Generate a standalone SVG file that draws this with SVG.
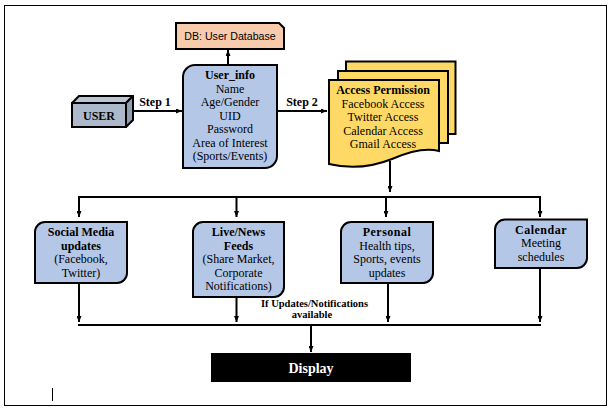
<svg xmlns="http://www.w3.org/2000/svg" width="613" height="411" viewBox="0 0 613 411">
<defs>
<marker id="ah" viewBox="0 0 6 5" refX="6" refY="2.5" markerWidth="6" markerHeight="5" orient="auto" markerUnits="userSpaceOnUse">
<path d="M0,0 L6,2.5 L0,5 Z" fill="#000"/>
</marker>
<style>
.t{font-family:"Liberation Serif","Times New Roman",serif;font-size:12px;fill:#000;text-anchor:middle}
.b{font-weight:bold}
.node{stroke:#000;stroke-width:2}
.blue{fill:#B4C7E7}
.conn{fill:none;stroke:#000;stroke-width:2}
</style>
</defs>
<rect x="0" y="0" width="613" height="411" fill="#fff"/>
<rect x="4.5" y="5.5" width="602" height="400" fill="none" stroke="#000" stroke-width="1"/>
<line x1="52.5" y1="388" x2="52.5" y2="401" stroke="#000" stroke-width="1"/>

<g id="connectors">
<line class="conn" x1="133" y1="111" x2="182" y2="111" marker-end="url(#ah)"/>
<line class="conn" x1="277" y1="111" x2="327" y2="111" marker-end="url(#ah)"/>
<line class="conn" x1="228" y1="65" x2="228" y2="50" marker-end="url(#ah)"/>
<line class="conn" x1="390" y1="161" x2="390" y2="192" marker-end="url(#ah)"/>
<line class="conn" x1="78" y1="197" x2="541" y2="197"/>
<line class="conn" x1="79" y1="196" x2="79" y2="217" marker-end="url(#ah)"/>
<line class="conn" x1="236.5" y1="197" x2="236.5" y2="217" marker-end="url(#ah)"/>
<line class="conn" x1="386" y1="197" x2="386" y2="217" marker-end="url(#ah)"/>
<line class="conn" x1="540" y1="196" x2="540" y2="217" marker-end="url(#ah)"/>
<line class="conn" x1="79" y1="284" x2="79" y2="322" marker-end="url(#ah)"/>
<line class="conn" x1="236.5" y1="298" x2="236.5" y2="322" marker-end="url(#ah)"/>
<line class="conn" x1="388" y1="284" x2="388" y2="322" marker-end="url(#ah)"/>
<line class="conn" x1="540" y1="269" x2="540" y2="322" marker-end="url(#ah)"/>
<line class="conn" x1="78" y1="325" x2="541" y2="325"/>
<line class="conn" x1="311" y1="325" x2="311" y2="352" marker-end="url(#ah)"/>
<text class="t b" x="155" y="105.5">Step 1</text>
<text class="t b" x="302" y="105.5">Step 2</text>
<text class="t b" x="314.5" y="306.5" style="font-size:10.5px">If Updates/Notifications</text>
<text class="t b" x="312" y="318" style="font-size:10.5px">available</text>
</g>

<g id="db">
<path class="node" d="M176,23 H279 L284,28 V49 H176 Z" fill="#F8CBAD"/>
<text x="230" y="39.5" style="font-family:'Liberation Sans',Arial,sans-serif;font-size:10.6px;text-anchor:middle">DB: User Database</text>
</g>

<g id="user">
<polygon class="node" points="72,103 79,96 133,96 126,103" fill="#BAC5D3" stroke-linejoin="round"/>
<polygon class="node" points="126,103 133,96 133,120 126,127" fill="#929EAD" stroke-linejoin="round"/>
<rect class="node" x="72" y="103" width="54" height="24" fill="#ACB9CA"/>
<text class="t b" x="99" y="119.5">USER</text>
</g>

<g id="user_info">
<path class="node blue" d="M195,65 H277 V156 A12,12 0 0 1 265,168 H183 V77 A12,12 0 0 1 195,65 Z"/>
<text class="t b" x="230" y="79">User_info</text>
<text class="t" x="230" y="92.5">Name</text>
<text class="t" x="230" y="106">Age/Gender</text>
<text class="t" x="230" y="119.5">UID</text>
<text class="t" x="230" y="133">Password</text>
<text class="t" x="230" y="146.5">Area of Interest</text>
<text class="t" x="230" y="160">(Sports/Events)</text>
</g>

<g id="access_permission">
<rect class="node" x="346" y="61.5" width="109.5" height="72.5" fill="#FFD966"/>
<rect class="node" x="338" y="71" width="110" height="72" fill="#FFD966"/>
<path class="node" d="M329,80 H439 V151 C424,147 408,152 392,159 C372,167 350,169 329,164 Z" fill="#FFD966"/>
<text class="t b" x="383" y="93.5">Access Permission</text>
<text class="t" x="383" y="107.5">Facebook Access</text>
<text class="t" x="383" y="121">Twitter Access</text>
<text class="t" x="383" y="134.5">Calendar Access</text>
<text class="t" x="383" y="148">Gmail Access</text>
</g>

<g id="social_media">
<path class="node blue" d="M45,222 H127 V273 A10,10 0 0 1 117,283 H35 V232 A10,10 0 0 1 45,222 Z"/>
<text class="t b" x="81" y="236">Social Media</text>
<text class="t b" x="81" y="249.5">updates</text>
<text class="t" x="81" y="263">(Facebook,</text>
<text class="t" x="81" y="276.5">Twitter)</text>
</g>

<g id="live_news">
<path class="node blue" d="M203,222 H284 V287 A10,10 0 0 1 274,297 H193 V232 A10,10 0 0 1 203,222 Z"/>
<text class="t b" x="238.5" y="236">Live/News</text>
<text class="t b" x="238.5" y="249.5">Feeds</text>
<text class="t" x="238.5" y="263">(Share Market,</text>
<text class="t" x="238.5" y="276.5">Corporate</text>
<text class="t" x="238.5" y="290">Notifications)</text>
</g>

<g id="personal">
<path class="node blue" d="M351,222 H433 V273 A10,10 0 0 1 423,283 H341 V232 A10,10 0 0 1 351,222 Z"/>
<text class="t b" x="387" y="236" letter-spacing="0.5">Personal</text>
<text class="t" x="387" y="249.5">Health tips,</text>
<text class="t" x="387" y="263">Sports, events</text>
<text class="t" x="387" y="276.5">updates</text>
</g>

<g id="calendar">
<path class="node blue" d="M505,219.5 H587 V258 A10,10 0 0 1 577,268 H495 V229.5 A10,10 0 0 1 505,219.5 Z"/>
<text class="t b" x="541" y="233.5" letter-spacing="0.5">Calendar</text>
<text class="t" x="541" y="247">Meeting</text>
<text class="t" x="541" y="260.5">schedules</text>
</g>

<g id="display">
<rect x="211" y="353" width="200" height="29" fill="#000"/>
<text class="t b" x="311" y="373" style="font-size:14px;fill:#fff">Display</text>
</g>
</svg>
